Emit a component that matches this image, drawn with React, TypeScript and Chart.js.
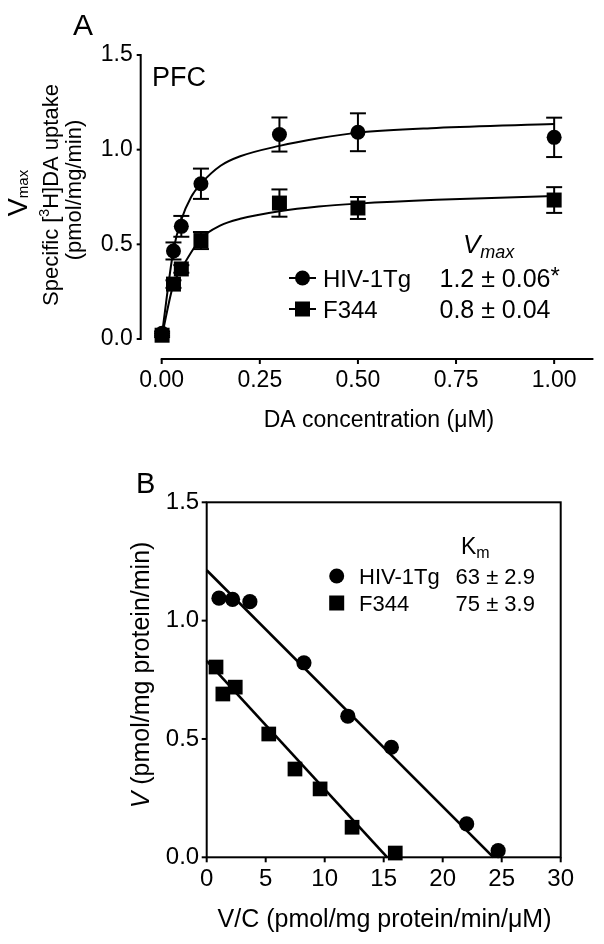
import React, { useEffect, useRef } from "react";
import { Chart, registerables } from "chart.js";

Chart.register(...registerables);

const FONT = '"Liberation Sans", Arial, Helvetica, sans-serif';

// ---------- Panel A data (Michaelis-Menten saturation) ----------
const seriesNames = ["HIV-1Tg", "F344"];
const concA = [0.001, 0.03, 0.05, 0.1, 0.3, 0.5, 1.0];
const hivA = [0.03, 0.465, 0.595, 0.82, 1.08, 1.092, 1.065];
const hivErrA = [0.01, 0.045, 0.055, 0.08, 0.09, 0.1, 0.104];
const f344A = [0.02, 0.29, 0.37, 0.52, 0.718, 0.692, 0.734];
const f344ErrA = [0.01, 0.02, 0.02, 0.045, 0.072, 0.058, 0.068];
// fitted curves
const hivCurveX = [0.001, 0.03, 0.05, 0.075, 0.1, 0.15, 0.2, 0.3, 0.4, 0.5, 0.7, 1.0];
const hivCurveY = [0.03, 0.47, 0.63, 0.75, 0.82, 0.915, 0.965, 1.02, 1.06, 1.09, 1.115, 1.135];
const f344CurveX = [0.001, 0.03, 0.05, 0.1, 0.15, 0.2, 0.3, 0.4, 0.5, 0.7, 1.0];
const f344CurveY = [0.02, 0.29, 0.37, 0.53, 0.6, 0.635, 0.675, 0.7, 0.715, 0.735, 0.755];
const xTicksA = [0, 0.25, 0.5, 0.75, 1.0];
const xTickLabelsA = ["0.00", "0.25", "0.50", "0.75", "1.00"];
const yTicksA = [0, 0.5, 1.0, 1.5];
const yTickLabelsA = ["0.0", "0.5", "1.0", "1.5"];
const vmaxValues = ["1.2 \u00b1 0.06", "0.8 \u00b1 0.04"];
const vmaxMarks = ["*", ""];

// ---------- Panel B data (Eadie-Hofstee) ----------
const hivBx = [1.04, 2.19, 3.66, 8.24, 11.96, 15.65, 22.03, 24.7];
const hivBy = [1.095, 1.09, 1.08, 0.822, 0.596, 0.465, 0.141, 0.028];
const f344Bx = [0.79, 1.37, 2.42, 5.26, 7.48, 9.61, 12.32, 15.98];
const f344By = [0.804, 0.69, 0.719, 0.521, 0.373, 0.289, 0.127, 0.018];
const hivFitX = [0, 24.3];
const hivFitY = [1.213, 0];
const f344FitX = [0, 15.3];
const f344FitY = [0.83, 0];
const xTicksB = [0, 5, 10, 15, 20, 25, 30];
const xTickLabelsB = ["0", "5", "10", "15", "20", "25", "30"];
const yTicksB = [0, 0.5, 1.0, 1.5];
const yTickLabelsB = ["0.0", "0.5", "1.0", "1.5"];
const kmValues = ["63 \u00b1 2.9", "75 \u00b1 3.9"];

type Run = { t: string; size: number; italic?: boolean; dy?: number };

function fontOf(r: Run) {
  return `${r.italic ? "italic " : ""}${r.size}px ${FONT}`;
}
function runsWidth(ctx: CanvasRenderingContext2D, runs: Run[]) {
  let w = 0;
  for (const r of runs) {
    ctx.font = fontOf(r);
    w += ctx.measureText(r.t).width;
  }
  return w;
}
function drawRuns(ctx: CanvasRenderingContext2D, runs: Run[], x: number, y: number, align: "left" | "center") {
  const w = runsWidth(ctx, runs);
  let cx = align === "center" ? x - w / 2 : x;
  ctx.textAlign = "left";
  ctx.textBaseline = "alphabetic";
  ctx.fillStyle = "#000";
  for (const r of runs) {
    ctx.font = fontOf(r);
    ctx.fillText(r.t, cx, y + (r.dy || 0));
    cx += ctx.measureText(r.t).width;
  }
}
function drawRotated(ctx: CanvasRenderingContext2D, runs: Run[], baseX: number, centerY: number) {
  ctx.save();
  ctx.translate(baseX, centerY);
  ctx.rotate(-Math.PI / 2);
  drawRuns(ctx, runs, 0, 0, "center");
  ctx.restore();
}
function marker(ctx: CanvasRenderingContext2D, kind: "circle" | "rect", x: number, y: number, size: number) {
  ctx.fillStyle = "#000";
  if (kind === "circle") {
    ctx.beginPath();
    ctx.arc(x, y, size / 2, 0, Math.PI * 2);
    ctx.fill();
  } else {
    ctx.fillRect(x - size / 2, y - size / 2, size, size);
  }
}
function line(ctx: CanvasRenderingContext2D, x1: number, y1: number, x2: number, y2: number, w = 2) {
  ctx.beginPath();
  ctx.lineWidth = w;
  ctx.strokeStyle = "#000";
  ctx.moveTo(x1, y1);
  ctx.lineTo(x2, y2);
  ctx.stroke();
}

const pts = (xs: number[], ys: number[]) => xs.map((x, i) => ({ x, y: ys[i] }));

const baseOpts = {
  responsive: false,
  animation: false as const,
  devicePixelRatio: 1,
  events: [] as any[],
  plugins: { legend: { display: false }, tooltip: { enabled: false }, title: { display: false } },
};

function tickScale(min: number, max: number, ticks: number[], labels: string[], size: number, tl: number, pad: number, fit: (s: any) => void) {
  return {
    type: "linear" as const,
    min,
    max,
    border: { display: false },
    grid: { display: true, drawOnChartArea: false, drawTicks: true, tickLength: tl, color: "rgba(0,0,0,0)" },
    ticks: {
      color: "#000",
      font: { size, family: FONT },
      padding: pad,
      maxRotation: 0,
      autoSkip: false,
      callback: (_v: any, i: number) => labels[i],
    },
    afterBuildTicks: (s: any) => {
      s.ticks = ticks.map((v) => ({ value: v }));
    },
    afterFit: fit,
  };
}

export default function App() {
  const refA = useRef<HTMLCanvasElement>(null);
  const refB = useRef<HTMLCanvasElement>(null);

  useEffect(() => {
    const decoA = {
      id: "decoA",
      beforeDatasetsDraw(chart: any) {
        const ctx = chart.ctx as CanvasRenderingContext2D;
        const xs = chart.scales.x;
        const ys = chart.scales.y;
        const bars = [
          [hivA, hivErrA],
          [f344A, f344ErrA],
        ];
        ctx.save();
        for (const [vals, errs] of bars) {
          concA.forEach((c, i) => {
            const px = xs.getPixelForValue(c);
            const top = ys.getPixelForValue(vals[i] + errs[i]);
            const bot = ys.getPixelForValue(vals[i] - errs[i]);
            line(ctx, px, top, px, bot, 2);
            line(ctx, px - 8, top, px + 8, top, 2);
            line(ctx, px - 8, bot, px + 8, bot, 2);
          });
        }
        ctx.restore();
      },
      afterDraw(chart: any) {
        const ctx = chart.ctx as CanvasRenderingContext2D;
        const { left, right, bottom } = chart.chartArea;
        const xs = chart.scales.x;
        const ys = chart.scales.y;
        ctx.save();
        // offset axes (Prism style)
        const axX = left - 21;
        line(ctx, axX, ys.getPixelForValue(1.5) - 1, axX, ys.getPixelForValue(0) + 1, 2);
        yTicksA.forEach((v) => line(ctx, axX - 4, ys.getPixelForValue(v), axX, ys.getPixelForValue(v), 2));
        const axY = bottom + 20;
        line(ctx, left - 1, axY, right, axY, 2);
        xTicksA.forEach((v) => line(ctx, xs.getPixelForValue(v), axY, xs.getPixelForValue(v), axY + 5, 2));
        // panel letter and region
        drawRuns(ctx, [{ t: "A", size: 30 }], 73, 35, "left");
        drawRuns(ctx, [{ t: "PFC", size: 27 }], 152, 86, "left");
        // y title
        drawRotated(ctx, [{ t: "V", size: 27 }, { t: "max", size: 15, dy: 1 }], 27, 193);
        drawRotated(ctx, [{ t: "Specific [", size: 22 }, { t: "3", size: 14, dy: -9 }, { t: "H]DA uptake", size: 22 }], 58, 195);
        drawRotated(ctx, [{ t: "(pmol/mg/min)", size: 22 }], 80.5, 190);
        // x title
        drawRuns(ctx, [{ t: "DA concentration (\u03bcM)", size: 23 }], 379, 427, "center");
        // legend
        drawRuns(ctx, [{ t: "V", size: 26, italic: true }, { t: "max", size: 18, italic: true, dy: 5 }], 463, 253, "left");
        const rows = [278, 309];
        const kinds: ("circle" | "rect")[] = ["circle", "rect"];
        rows.forEach((ry, i) => {
          line(ctx, 289, ry, 316, ry, 2);
          marker(ctx, kinds[i], 302.5, ry, 15);
          drawRuns(ctx, [{ t: seriesNames[i], size: 24 }], 323, ry + 8.6, "left");
          drawRuns(ctx, [{ t: vmaxValues[i], size: 25 }, { t: vmaxMarks[i], size: 24, dy: -3 }], 439.5, ry + 8.8, "left");
        });
        ctx.restore();
      },
    };

    const chartA = new Chart(refA.current!, {
      type: "scatter",
      data: {
        datasets: [
          { label: seriesNames[0], data: pts(concA, hivA), pointStyle: "circle", pointRadius: 7.5, pointBorderWidth: 0, pointBackgroundColor: "#000", showLine: false, clip: false },
          { label: seriesNames[1], data: pts(concA, f344A), pointStyle: "rect", pointRadius: 10.6, pointBorderWidth: 0, pointBackgroundColor: "#000", showLine: false, clip: false },
          { label: "HIV-1Tg fit", data: pts(hivCurveX, hivCurveY), showLine: true, pointRadius: 0, borderColor: "#000", borderWidth: 2, cubicInterpolationMode: "monotone", clip: false },
          { label: "F344 fit", data: pts(f344CurveX, f344CurveY), showLine: true, pointRadius: 0, borderColor: "#000", borderWidth: 2, cubicInterpolationMode: "monotone", clip: false },
        ] as any,
      },
      options: {
        ...baseOpts,
        layout: { padding: { left: 0, top: 55, right: 9.3, bottom: 944 - 339 - 81 } },
        scales: {
          x: tickScale(0, 1.1, xTicksA, xTickLabelsA, 23, 25, 3.2, (s: any) => { s.height = 81; }),
          y: tickScale(0, 1.5, yTicksA, yTickLabelsA, 23, 25, 4, (s: any) => { s.width = 161.7; }),
        },
      } as any,
      plugins: [decoA],
    });

    const decoB = {
      id: "decoB",
      afterDraw(chart: any) {
        const ctx = chart.ctx as CanvasRenderingContext2D;
        const { left, right, top, bottom } = chart.chartArea;
        const xs = chart.scales.x;
        const ys = chart.scales.y;
        ctx.save();
        ctx.lineWidth = 2;
        ctx.strokeStyle = "#000";
        ctx.strokeRect(left, top, right - left, bottom - top);
        xTicksB.forEach((v) => line(ctx, xs.getPixelForValue(v), bottom, xs.getPixelForValue(v), bottom + 5, 2));
        yTicksB.forEach((v) => line(ctx, left - 5, ys.getPixelForValue(v), left, ys.getPixelForValue(v), 2));
        drawRuns(ctx, [{ t: "B", size: 29 }], 136, 493, "left");
        drawRotated(ctx, [{ t: "V", size: 25, italic: true }, { t: " (pmol/mg protein/min)", size: 25 }], 149, 675);
        drawRuns(ctx, [{ t: "V/C (pmol/mg protein/min/\u03bcM)", size: 25 }], 384.5, 927, "center");
        drawRuns(ctx, [{ t: "K", size: 23 }, { t: "m", size: 16, dy: 4 }], 461, 553.6, "left");
        const rows = [576, 603];
        const kinds: ("circle" | "rect")[] = ["circle", "rect"];
        rows.forEach((ry, i) => {
          marker(ctx, kinds[i], 336.7, ry, 15);
          drawRuns(ctx, [{ t: seriesNames[i], size: 22 }], 359, ry + 8, "left");
          drawRuns(ctx, [{ t: kmValues[i], size: 22 }], 455.6, ry + 8, "left");
        });
        ctx.restore();
      },
    };

    const chartB = new Chart(refB.current!, {
      type: "scatter",
      data: {
        datasets: [
          { label: seriesNames[0], data: pts(hivBx, hivBy), pointStyle: "circle", pointRadius: 7.6, pointBorderWidth: 0, pointBackgroundColor: "#000", showLine: false, clip: false },
          { label: seriesNames[1], data: pts(f344Bx, f344By), pointStyle: "rect", pointRadius: 10.4, pointBorderWidth: 0, pointBackgroundColor: "#000", showLine: false, clip: false },
          { label: "HIV-1Tg fit", data: pts(hivFitX, hivFitY), showLine: true, pointRadius: 0, borderColor: "#000", borderWidth: 2.6, clip: false },
          { label: "F344 fit", data: pts(f344FitX, f344FitY), showLine: true, pointRadius: 0, borderColor: "#000", borderWidth: 2.6, clip: false },
        ] as any,
      },
      options: {
        ...baseOpts,
        layout: { padding: { left: 0, top: 502.3, right: 604 - 560.7, bottom: 0 } },
        scales: {
          x: tickScale(0, 30, xTicksB, xTickLabelsB, 24, 5, 2.3, (s: any) => { s.height = 944 - 857.3; }),
          y: tickScale(0, 1.5, yTicksB, yTickLabelsB, 24, 5, 2.5, (s: any) => { s.width = 206.7; }),
        },
      } as any,
      plugins: [decoB],
    });

    return () => {
      chartA.destroy();
      chartB.destroy();
    };
  }, []);

  const cs: React.CSSProperties = { position: "absolute", left: 0, top: 0, width: 604, height: 944 };
  return (
    <div>
      <canvas ref={refA} width={604} height={944} style={cs} />
      <canvas ref={refB} width={604} height={944} style={cs} />
    </div>
  );
}
